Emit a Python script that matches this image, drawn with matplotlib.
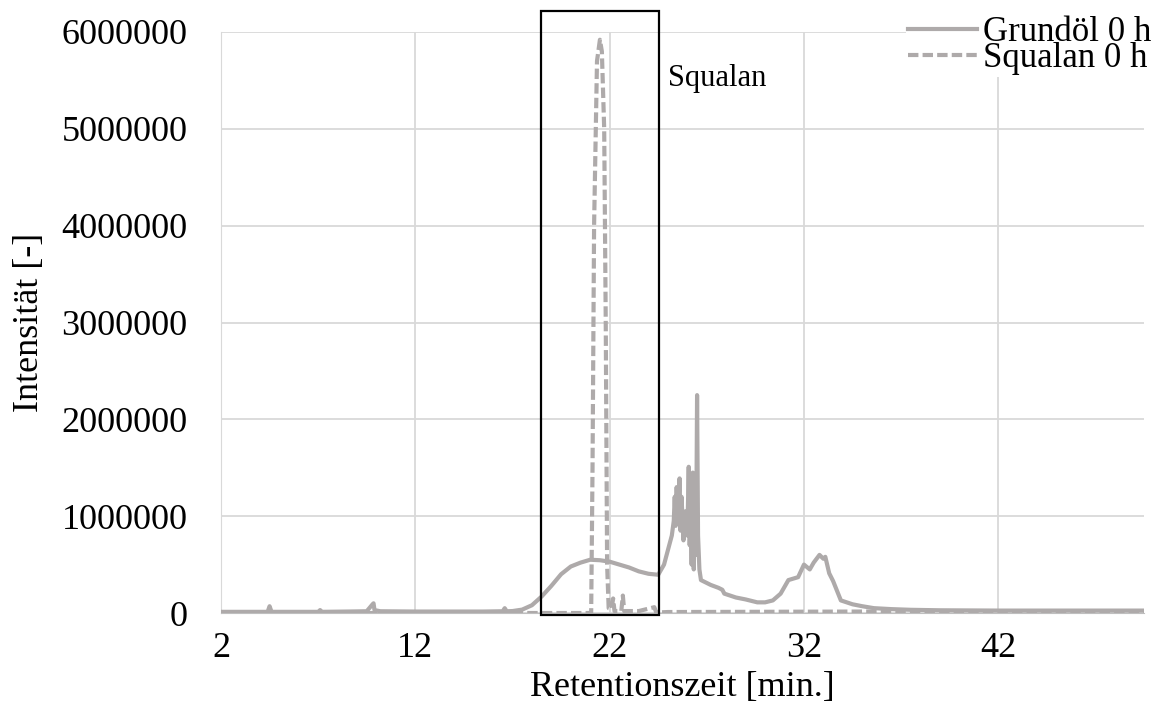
import matplotlib.pyplot as plt
from matplotlib.patches import Rectangle

plt.rcParams['font.family'] = ['Liberation Serif', 'DejaVu Serif']

# retention time [min] and intensity for the base oil
grund_t = [2.0, 3.0, 4.4, 4.5, 4.6, 6.0, 7.0, 7.1, 7.2, 8.5, 9.5, 9.8, 9.85, 9.9,
           10.2, 12.0, 14.0, 15.5, 16.5, 16.6, 16.7, 17.0, 17.5, 18.0, 18.5,
           19.0, 19.5, 20.0, 20.5, 21.0, 21.5, 22.0, 22.5, 23.0, 23.5, 24.0,
           24.5, 24.8, 25.0, 25.2, 25.3, 25.35, 25.4, 25.45, 25.5, 25.6, 25.65,
           25.7, 25.8, 25.9, 26.0, 26.07, 26.12, 26.17, 26.22, 26.28, 26.33,
           26.38, 26.45, 26.5, 26.55, 26.62, 26.7, 26.9, 27.2, 27.6, 27.8,
           27.85, 27.9, 28.2, 28.5, 29.0, 29.6, 30.0, 30.4, 30.8, 31.2, 31.7,
           32.0, 32.3, 32.5, 32.8, 33.0, 33.1, 33.3, 33.5, 33.9, 34.5, 35.0,
           35.6, 36.5, 37.5, 39.0, 42.0, 45.0, 49.5]
grund_i = [12000, 12000, 12000, 70000, 12000, 12000, 12000, 30000, 12000, 15000,
           18000, 90000, 100000, 30000, 18000, 15000, 15000, 15000, 18000,
           50000, 18000, 20000, 35000, 80000, 170000, 280000, 400000, 480000,
           520000, 550000, 545000, 530000, 500000, 470000, 430000, 405000,
           395000, 500000, 650000, 800000, 950000, 1200000, 900000, 1300000,
           950000, 1390000, 850000, 1200000, 750000, 1050000, 800000, 1510000,
           700000, 1100000, 500000, 1450000, 450000, 1100000, 600000, 2250000,
           800000, 450000, 340000, 320000, 290000, 260000, 240000, 220000,
           200000, 180000, 160000, 140000, 110000, 110000, 130000, 200000,
           340000, 370000, 500000, 450000, 520000, 600000, 560000, 580000,
           410000, 330000, 130000, 90000, 70000, 50000, 40000, 33000, 28000,
           25000, 25000, 25000]

# retention time [min] and intensity for squalane
squal_t = [2.0, 12.0, 20.0, 21.05, 21.12, 21.2, 21.35, 21.5, 21.6, 21.72,
           21.8, 21.87, 21.95, 22.1, 22.18, 22.25, 22.4, 22.6, 22.68, 22.75,
           23.5, 24.3, 24.4, 25.0, 35.0, 49.5]
squal_i = [0, 0, 0, 0, 1500000, 4000000, 5700000, 5920000, 5800000, 5000000,
           3000000, 500000, 50000, 40000, 150000, 20000, 20000, 20000, 180000,
           20000, 20000, 60000, 5000, 10000, 15000, 10000]

x_ticks = [2, 12, 22, 32, 42]
y_ticks = [0, 1000000, 2000000, 3000000, 4000000, 5000000, 6000000]

line_color = '#AEAAAA'

fig = plt.figure(figsize=(11.73, 7.13), dpi=100)
ax = fig.add_axes([221 / 1173, 1 - 613 / 713, (1144 - 221) / 1173, (613 - 32) / 713])

ax.plot(grund_t, grund_i, color=line_color, lw=3, label='Grundöl 0 h',
        solid_joinstyle='round', zorder=3)
ax.plot(squal_t, squal_i, color=line_color, lw=3, ls=(0, (2.5, 1)),
        label='Squalan 0 h', zorder=3)

ax.set_xlim(2, 49.5)
ax.set_ylim(0, 6000000)
ax.set_xticks(x_ticks)
ax.set_yticks(y_ticks)
ax.set_xticklabels([str(t) for t in x_ticks])
ax.set_yticklabels([str(t) for t in y_ticks])
ax.tick_params(labelsize=26, length=0)
ax.tick_params(axis='x', pad=14)
ax.tick_params(axis='y', pad=24)
ax.grid(True, color='#D9D9D9', lw=1.3)
ax.set_axisbelow(True)
for side in ['top', 'right']:
    ax.spines[side].set_visible(False)
ax.spines['left'].set_color('#D9D9D9')
ax.spines['bottom'].set_color('#BFBFBF')

ax.set_xlabel('Retentionszeit [min.]', fontsize=26, labelpad=4)
ax.set_ylabel('Intensität [-]', fontsize=26, labelpad=11)

# frame around the squalane region
ax.add_patch(Rectangle((18.45, -20000), 24.55 - 18.45, 6240000, fill=False,
                       ec='black', lw=1.6, clip_on=False, zorder=4))
ax.text(25.0, 5520000, 'Squalan', fontsize=22, ha='left', va='center')

fig.legend(loc='upper left', bbox_to_anchor=(906 / 1173, 1 - 14 / 713),
           fontsize=25, frameon=True, facecolor='white', edgecolor='none',
           framealpha=1, fancybox=False, handlelength=2.0, handletextpad=0.17,
           labelspacing=-0.2, borderpad=0.05, borderaxespad=0)

fig.savefig('out.png', dpi=100)
